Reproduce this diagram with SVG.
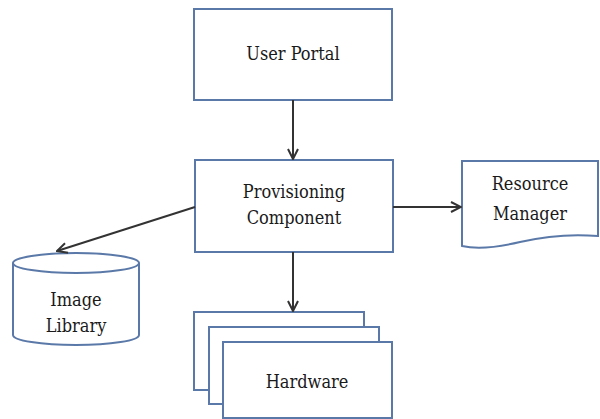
<svg xmlns="http://www.w3.org/2000/svg" width="600" height="419" viewBox="0 0 600 419">
  <style>
    .box { fill: #ffffff; stroke: #5b79a8; stroke-width: 2; }
    .lbl { font-family: "DejaVu Serif Condensed", "DejaVu Serif", serif; font-stretch: condensed; font-size: 18px; fill: #1a1a1a; text-anchor: middle; }
    .edge { fill: none; stroke: #333333; stroke-width: 2; }
  </style>
  <defs>
    <marker id="arrow" viewBox="0 0 12 12" refX="11" refY="6" markerWidth="12" markerHeight="12" markerUnits="userSpaceOnUse" orient="auto">
      <path d="M1,1 L11,6 L1,11" fill="none" stroke="#333333" stroke-width="2"/>
    </marker>
  </defs>
  <rect width="600" height="419" fill="#ffffff"/>

  <g id="user-portal">
    <rect class="box" x="194" y="9" width="198" height="91"/>
    <text class="lbl" x="293" y="60">User Portal</text>
  </g>

  <g id="provisioning">
    <rect class="box" x="195" y="160" width="198" height="92"/>
    <text class="lbl" x="294" y="198">Provisioning</text>
    <text class="lbl" x="294" y="224">Component</text>
  </g>

  <g id="resource-manager">
    <path class="box" d="M462,161 L598,161 L598,236 C575,234 550,235 520,242 C495,248 475,249 462,246 Z"/>
    <text class="lbl" x="530" y="190">Resource</text>
    <text class="lbl" x="530" y="220">Manager</text>
  </g>

  <g id="image-library">
    <path class="box" d="M13,263 L13,335 A63,10 0 0 0 139,335 L139,263"/>
    <ellipse class="box" cx="76" cy="263" rx="63" ry="10"/>
    <text class="lbl" x="76" y="306">Image</text>
    <text class="lbl" x="76" y="332">Library</text>
  </g>

  <g id="hardware">
    <rect class="box" x="194" y="312" width="170" height="78"/>
    <rect class="box" x="209" y="327" width="170" height="77"/>
    <rect class="box" x="223" y="342" width="169" height="76"/>
    <text class="lbl" x="307" y="388">Hardware</text>
  </g>

  <g id="connectors">
    <line class="edge" x1="293" y1="100" x2="293" y2="159" marker-end="url(#arrow)"/>
    <line class="edge" x1="393" y1="207" x2="461" y2="207" marker-end="url(#arrow)"/>
    <line class="edge" x1="195" y1="207" x2="57" y2="251" marker-end="url(#arrow)"/>
    <line class="edge" x1="293" y1="252" x2="293" y2="311" marker-end="url(#arrow)"/>
  </g>
</svg>
